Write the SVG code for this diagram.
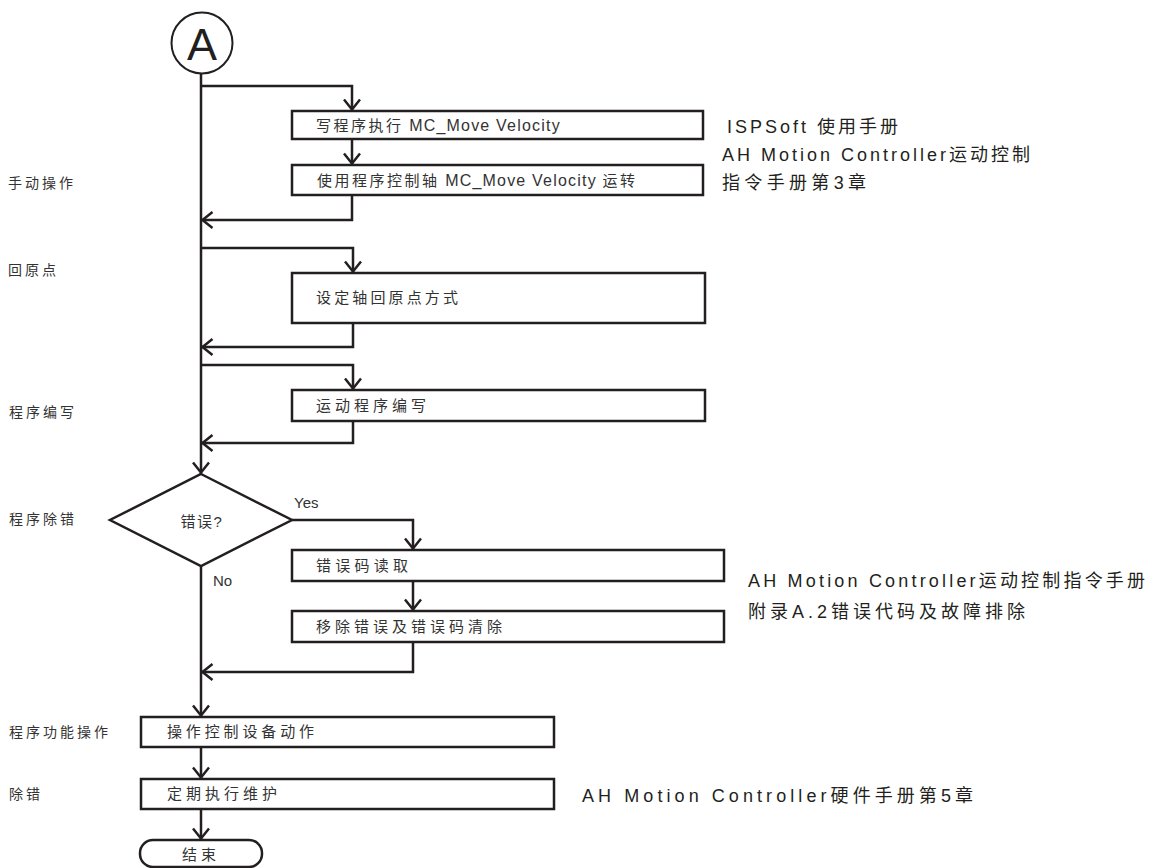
<svg xmlns="http://www.w3.org/2000/svg" width="1149" height="868" viewBox="0 0 1149 868">
<style>
.box{fill:#fff;stroke:#231f20;stroke-width:2.5}
.ln{fill:none;stroke:#231f20;stroke-width:2.5}
.t{font-family:"Liberation Sans","Noto Sans CJK SC",sans-serif;fill:#333;font-size:15px}
.cj{letter-spacing:2.5px}
.lt{font-size:16px;letter-spacing:1.2px}
.lbl{font-family:"Liberation Sans","Noto Sans CJK SC",sans-serif;fill:#333;font-size:14px;letter-spacing:3px}
.ref{font-family:"Liberation Sans","Noto Sans CJK SC",sans-serif;fill:#231f20;font-size:18px}
</style>
<defs>
<marker id="ah" markerUnits="userSpaceOnUse" markerWidth="24" markerHeight="24" viewBox="-12 -12 24 24" refX="1.5" refY="0" orient="auto" overflow="visible">
<path d="M-10,-8 L0,0 L-10,8" fill="none" stroke="#231f20" stroke-width="2.5"/>
</marker>
</defs>
<g id="connectors">
<path class="ln" d="M201,74 V474" marker-end="url(#ah)"/>
<path class="ln" d="M201,86 H352 V111" marker-end="url(#ah)"/>
<path class="ln" d="M352,139 V165" marker-end="url(#ah)"/>
<path class="ln" d="M352,195 V220 H201" marker-end="url(#ah)"/>
<path class="ln" d="M201,248 H353 V273" marker-end="url(#ah)"/>
<path class="ln" d="M353,323 V347 H201" marker-end="url(#ah)"/>
<path class="ln" d="M201,365 H353 V390" marker-end="url(#ah)"/>
<path class="ln" d="M353,421 V443 H201" marker-end="url(#ah)"/>
<path class="ln" d="M292,520 H413 V550" marker-end="url(#ah)"/>
<path class="ln" d="M413,581 V611" marker-end="url(#ah)"/>
<path class="ln" d="M413,642 V672 H201" marker-end="url(#ah)"/>
<path class="ln" d="M201,566 V717" marker-end="url(#ah)"/>
<path class="ln" d="M201,747 V779" marker-end="url(#ah)"/>
<path class="ln" d="M201,809 V840" marker-end="url(#ah)"/>
<text class="t" x="294" y="508" font-size="16">Yes</text>
<text class="t" x="213" y="586" font-size="16">No</text>
</g>
<g id="start">
<circle cx="202" cy="43" r="30.5" fill="#fff" stroke="#231f20" stroke-width="2"/>
<text x="202" y="60" text-anchor="middle" font-family="Liberation Sans, sans-serif" font-size="45" fill="#231f20">A</text>
</g>
<g id="box1"><rect class="box" x="292" y="111" width="411" height="28"/><text class="t" x="316" y="131"><tspan class="cj">写程序执行</tspan><tspan class="lt"> MC_Move Velocity</tspan></text></g>
<g id="box2"><rect class="box" x="292" y="165" width="411" height="30"/><text class="t" x="317" y="186"><tspan class="cj">使用程序控制轴</tspan><tspan class="lt"> MC_Move Velocity </tspan><tspan class="cj">运转</tspan></text></g>
<g id="box3"><rect class="box" x="292" y="273" width="413" height="50"/><text class="t" x="316" y="303" textLength="142" lengthAdjust="spacing">设定轴回原点方式</text></g>
<g id="box4"><rect class="box" x="292" y="390" width="413" height="31"/><text class="t" x="316" y="411" textLength="110" lengthAdjust="spacing">运动程序编写</text></g>
<g id="decision"><polygon points="201,474 292,520 201,566 110,520" fill="#fff" stroke="#231f20" stroke-width="2.5"/><text class="t" x="202" y="527" text-anchor="middle" font-size="17" letter-spacing="1.5">错误?</text></g>
<g id="box5"><rect class="box" x="292" y="550" width="432" height="31"/><text class="t" x="316" y="571" textLength="92" lengthAdjust="spacing">错误码读取</text></g>
<g id="box6"><rect class="box" x="292" y="611" width="432" height="31"/><text class="t" x="316" y="632" textLength="186" lengthAdjust="spacing">移除错误及错误码清除</text></g>
<g id="box7"><rect class="box" x="141" y="717" width="413" height="30"/><text class="t" x="167" y="737" textLength="147" lengthAdjust="spacing">操作控制设备动作</text></g>
<g id="box8"><rect class="box" x="141" y="779" width="413" height="30"/><text class="t" x="167" y="799" textLength="110" lengthAdjust="spacing">定期执行维护</text></g>
<g id="end"><rect class="box" x="140" y="840" width="122" height="27" rx="13"/><text class="t" x="201" y="860" text-anchor="middle" font-size="16" letter-spacing="4">结束</text></g>
<g id="labels">
<text class="lbl" x="8" y="188">手动操作</text>
<text class="lbl" x="8" y="275">回原点</text>
<text class="lbl" x="9" y="417">程序编写</text>
<text class="lbl" x="9" y="524">程序除错</text>
<text class="lbl" x="9" y="737">程序功能操作</text>
<text class="lbl" x="9" y="799">除错</text>
</g>
<g id="refs">
<text class="ref" x="727" y="133" textLength="171" lengthAdjust="spacing">ISPSoft 使用手册</text>
<text class="ref" x="722" y="161" textLength="308" lengthAdjust="spacing">AH Motion Controller运动控制</text>
<text class="ref" x="722" y="189" textLength="144" lengthAdjust="spacing">指令手册第3章</text>
<text class="ref" x="748" y="587" textLength="397" lengthAdjust="spacing">AH Motion Controller运动控制指令手册</text>
<text class="ref" x="748" y="618" textLength="277" lengthAdjust="spacing">附录A.2错误代码及故障排除</text>
<text class="ref" x="582" y="802" textLength="391" lengthAdjust="spacing">AH Motion  Controller硬件手册第5章</text>
</g>
</svg>
